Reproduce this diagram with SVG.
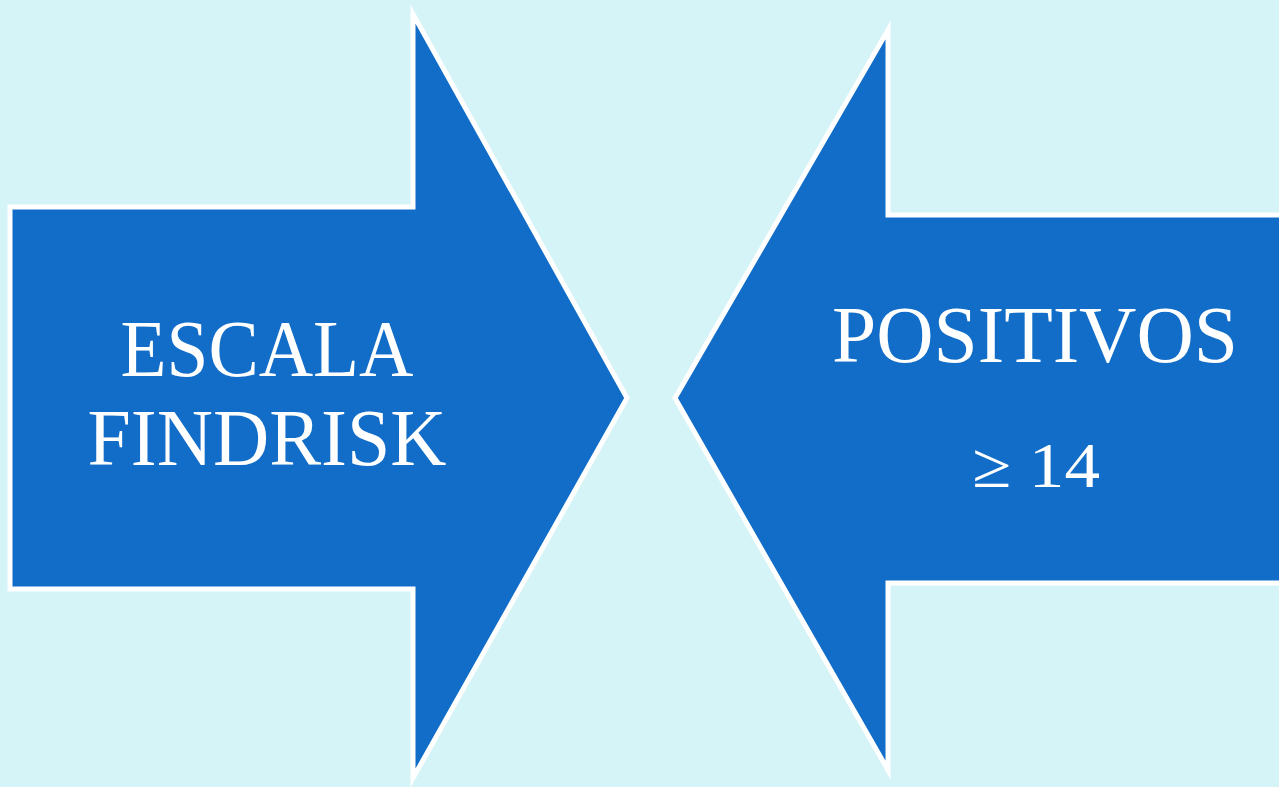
<svg xmlns="http://www.w3.org/2000/svg" width="1279" height="787" viewBox="0 0 1279 787">
  <style>
    .arrow { fill: #116dc7; stroke: #ffffff; stroke-width: 5; stroke-linejoin: miter; stroke-miterlimit: 20; }
    .label { fill: #ffffff; font-family: "Liberation Serif", "DejaVu Serif", serif; font-size: 80px; text-anchor: middle; }
  </style>
  <rect x="0" y="0" width="1279" height="787" fill="#d5f4f8"/>
  <g id="node-escala">
    <path class="arrow" d="M10,207 L413,207 L413,14 L627,398 L413,778 L413,589 L10,589 Z"/>
    <text class="label" x="267" y="376" textLength="293" lengthAdjust="spacingAndGlyphs">ESCALA</text>
    <text class="label" x="267" y="465" textLength="359" lengthAdjust="spacingAndGlyphs">FINDRISK</text>
  </g>
  <g id="node-positivos">
    <path class="arrow" d="M1290,215 L888,215 L888,30 L675,398 L888,770 L888,583 L1290,583 Z"/>
    <text class="label" x="1035" y="362" textLength="406" lengthAdjust="spacingAndGlyphs">POSITIVOS</text>
    <text class="label" x="1036" y="487" style="font-size:64px" textLength="128" lengthAdjust="spacingAndGlyphs">≥ 14</text>
  </g>
  <g id="connectors"></g>
</svg>
